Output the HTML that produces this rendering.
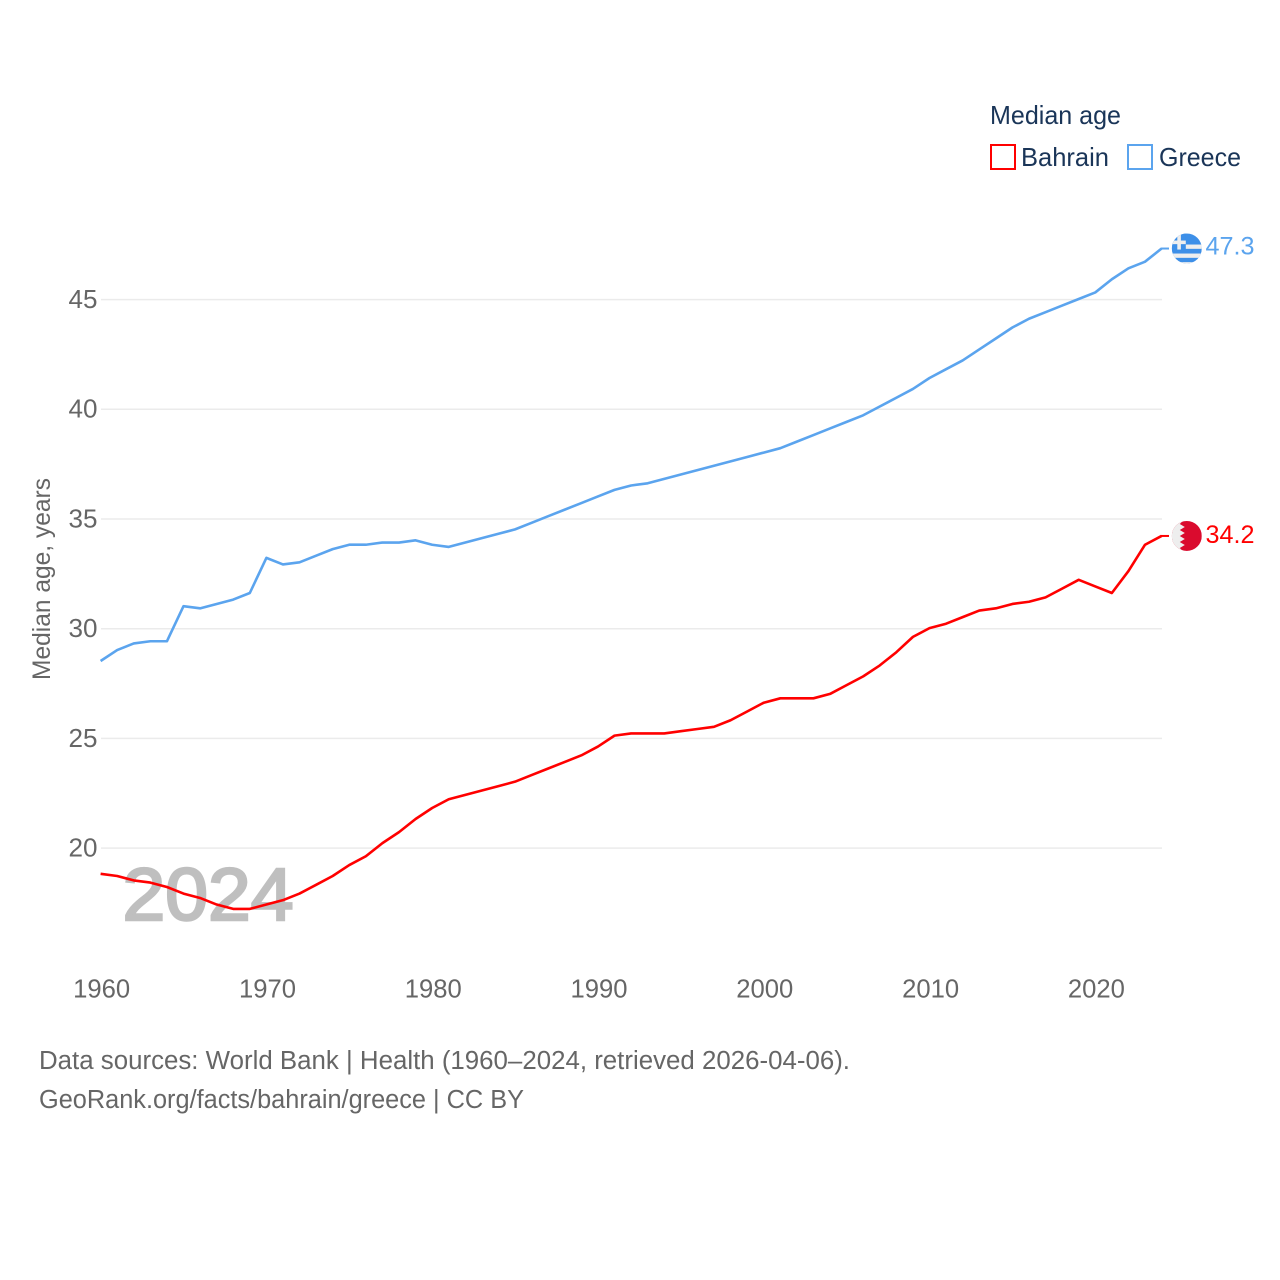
<!DOCTYPE html>
<html lang="en">
<head>
<meta charset="utf-8">
<title>Median age: Bahrain and Greece</title>
<style>
html,body{margin:0;padding:0;background:#fff;}
svg{display:block;}
text{font-family:"Liberation Sans",sans-serif;}
</style>
</head>
<body>
<svg id="chart" xmlns="http://www.w3.org/2000/svg" width="1280" height="1280" viewBox="0 0 1280 1280">
  <defs>
    <clipPath id="flag-clip"><circle cx="0" cy="0" r="15"></circle></clipPath>
  </defs>
  <rect x="0" y="0" width="1280" height="1280" fill="#ffffff"></rect>

  <g id="grid"></g>
  <g id="yticks"></g>
  <g id="xticks"></g>

  <text x="122.5" y="920" font-size="74" fill="#bfbfbf" stroke="#bfbfbf" stroke-width="2.5" textLength="171" lengthAdjust="spacingAndGlyphs">2024</text>

  <text transform="translate(50 680) rotate(-90)" font-size="25" fill="#666666" textLength="202" lengthAdjust="spacingAndGlyphs">Median age, years</text>

  <g id="series"></g>

  <g id="flag-greece" clip-path="url(#flag-clip)">
    <rect x="-15" y="-15" width="30" height="30" fill="#3d8fe8"></rect>
    <rect x="-15" y="-4" width="30" height="4.3" fill="#eeeeee"></rect>
    <rect x="-15" y="5" width="30" height="4.3" fill="#eeeeee"></rect>
    <rect x="-15" y="13.6" width="30" height="2" fill="#eeeeee"></rect>
    <rect x="-15" y="-15" width="14" height="16" fill="#3d8fe8"></rect>
    <rect x="-9.5" y="-15" width="3.6" height="16" fill="#eeeeee"></rect>
    <rect x="-15" y="-8" width="14" height="3.6" fill="#eeeeee"></rect>
  </g>

  <g id="flag-bahrain" clip-path="url(#flag-clip)">
    <rect x="-15" y="-15" width="30" height="30" fill="#da0b2e"></rect>
    <polygon fill="#eeeeee" points="-15,-15 -4,-15 -7,-12 -2,-9 -7,-6 -2,-3 -7,0 -2,3 -7,6 -2,9 -7,12 -4,15 -15,15"></polygon>
  </g>

  <text id="label-greece" x="1205.5" font-size="25" fill="#5ba4ee" textLength="49" lengthAdjust="spacingAndGlyphs"></text>
  <text id="label-bahrain" x="1205.5" font-size="25" fill="#ff0000" textLength="49" lengthAdjust="spacingAndGlyphs"></text>

  <g>
    <text x="990" y="124" font-size="26" fill="#1a3558" textLength="131" lengthAdjust="spacingAndGlyphs">Median age</text>
    <rect x="991" y="145" width="24" height="24" fill="none" stroke="#ff0000" stroke-width="2"></rect>
    <text x="1021" y="166" font-size="26" fill="#1a3558" textLength="88" lengthAdjust="spacingAndGlyphs">Bahrain</text>
    <rect x="1128" y="145" width="24" height="24" fill="none" stroke="#5ba4ee" stroke-width="2"></rect>
    <text x="1159" y="166" font-size="26" fill="#1a3558" textLength="82" lengthAdjust="spacingAndGlyphs">Greece</text>
  </g>

  <text x="39" y="1069" font-size="25.5" fill="#666666" textLength="811" lengthAdjust="spacingAndGlyphs">Data sources: World Bank | Health (1960–2024, retrieved 2026-04-06).</text>
  <text x="39" y="1108" font-size="25.5" fill="#666666" textLength="485" lengthAdjust="spacingAndGlyphs">GeoRank.org/facts/bahrain/greece | CC BY</text>
</svg>
<script>
var years = [1960,1961,1962,1963,1964,1965,1966,1967,1968,1969,1970,1971,1972,1973,1974,1975,1976,1977,1978,1979,1980,1981,1982,1983,1984,1985,1986,1987,1988,1989,1990,1991,1992,1993,1994,1995,1996,1997,1998,1999,2000,2001,2002,2003,2004,2005,2006,2007,2008,2009,2010,2011,2012,2013,2014,2015,2016,2017,2018,2019,2020,2021,2022,2023,2024];
var greeceValues = [28.5,29.0,29.3,29.4,29.4,31.0,30.9,31.1,31.3,31.6,33.2,32.9,33.0,33.3,33.6,33.8,33.8,33.9,33.9,34.0,33.8,33.7,33.9,34.1,34.3,34.5,34.8,35.1,35.4,35.7,36.0,36.3,36.5,36.6,36.8,37.0,37.2,37.4,37.6,37.8,38.0,38.2,38.5,38.8,39.1,39.4,39.7,40.1,40.5,40.9,41.4,41.8,42.2,42.7,43.2,43.7,44.1,44.4,44.7,45.0,45.3,45.9,46.4,46.7,47.3];
var bahrainValues = [18.8,18.7,18.5,18.4,18.2,17.9,17.7,17.4,17.2,17.2,17.4,17.6,17.9,18.3,18.7,19.2,19.6,20.2,20.7,21.3,21.8,22.2,22.4,22.6,22.8,23.0,23.3,23.6,23.9,24.2,24.6,25.1,25.2,25.2,25.2,25.3,25.4,25.5,25.8,26.2,26.6,26.8,26.8,26.8,27.0,27.4,27.8,28.3,28.9,29.6,30.0,30.2,30.5,30.8,30.9,31.1,31.2,31.4,31.8,32.2,31.9,31.6,32.6,33.8,34.2];
var yTickValues = [20,25,30,35,40,45];
var xTickValues = [1960,1970,1980,1990,2000,2010,2020];

var NS = 'http://www.w3.org/2000/svg';
function xScale(year) { return 100.6 + (year - 1960) * (1161.6 - 100.6) / 64; }
function yScale(value) { return 847.5 - (value - 20) * 21.94; }
function make(tag, parent, attrs) {
  var el = document.createElementNS(NS, tag);
  for (var k in attrs) { el.setAttribute(k, attrs[k]); }
  parent.appendChild(el);
  return el;
}

var grid = document.getElementById('grid');
var yticks = document.getElementById('yticks');
yTickValues.forEach(function (v) {
  var line = make('line', grid, { x1: 101, x2: 1162, y1: yScale(v) + 0.6, y2: yScale(v) + 0.6, stroke: '#ebebeb', 'stroke-width': 1.5 });
  
  
  var label = make('text', yticks, { x: 97.5, y: yScale(v) + 9, 'text-anchor': 'end', 'font-size': 25.5, fill: '#666666', textLength: 29, lengthAdjust: 'spacingAndGlyphs' });
  
  
  label.textContent = String(v);
});

var xticks = document.getElementById('xticks');
xTickValues.forEach(function (t) {
  var label = make('text', xticks, { x: xScale(t) - 27.4, y: 997.5, 'font-size': 25.5, fill: '#666666', textLength: 57, lengthAdjust: 'spacingAndGlyphs' });
  
  
  label.textContent = String(t);
});

var seriesGroup = document.getElementById('series');
function pathFor(values) {
  return values.map(function (v, i) {
    return (i ? 'L' : 'M') + xScale(years[i]).toFixed(2) + ' ' + yScale(v).toFixed(2);
  }).join(' ');
}

var greeceLine = make('path', seriesGroup, { d: pathFor(greeceValues), fill: 'none', stroke: '#5ba4ee', 'stroke-width': 2.6, 'stroke-linejoin': 'round' });



var bahrainLine = make('path', seriesGroup, { d: pathFor(bahrainValues), fill: 'none', stroke: '#ff0000', 'stroke-width': 2.6, 'stroke-linejoin': 'round' });



var lastGreece = greeceValues[greeceValues.length - 1];
var lastBahrain = bahrainValues[bahrainValues.length - 1];

var greeceConnector = make('line', seriesGroup, { x1: 1161, x2: 1169, y1: yScale(lastGreece), y2: yScale(lastGreece), stroke: '#5ba4ee', 'stroke-width': 2 });



var bahrainConnector = make('line', seriesGroup, { x1: 1161, x2: 1169, y1: yScale(lastBahrain), y2: yScale(lastBahrain), stroke: '#ff0000', 'stroke-width': 2 });



document.getElementById('flag-greece').setAttribute('transform', 'translate(1186.8 ' + yScale(lastGreece) + ')');
document.getElementById('flag-bahrain').setAttribute('transform', 'translate(1186.8 ' + yScale(lastBahrain) + ')');

var greeceLabel = document.getElementById('label-greece');
greeceLabel.setAttribute('y', yScale(lastGreece) + 6);
greeceLabel.textContent = lastGreece.toFixed(1);

var bahrainLabel = document.getElementById('label-bahrain');
bahrainLabel.setAttribute('y', yScale(lastBahrain) + 7);
bahrainLabel.textContent = lastBahrain.toFixed(1);
</script>
</body>
</html>
